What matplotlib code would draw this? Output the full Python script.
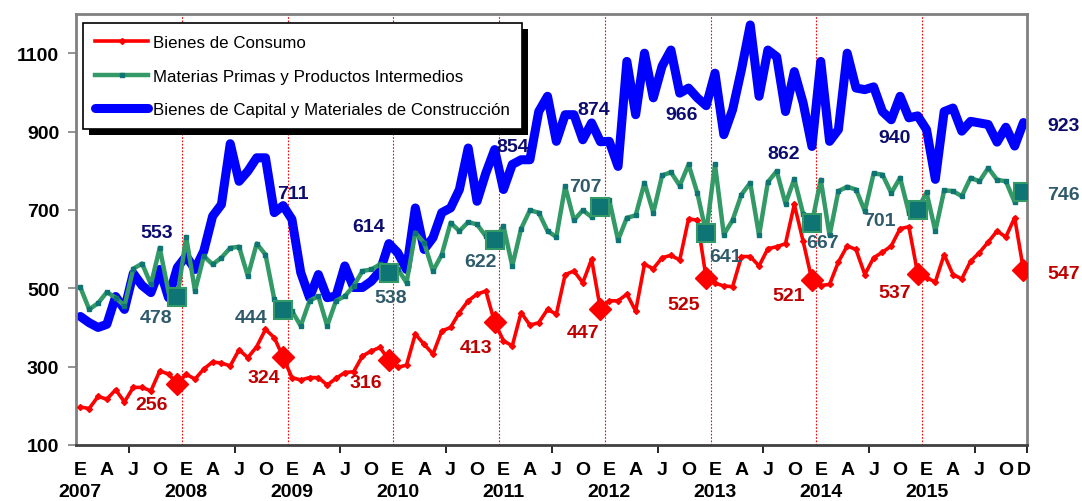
import numpy as np
import matplotlib
matplotlib.use("Agg")
import matplotlib.pyplot as plt
from matplotlib.patches import Rectangle
from matplotlib.transforms import blended_transform_factory

# ---------------- data ----------------
years = [2007, 2008, 2009, 2010, 2011, 2012, 2013, 2014, 2015]
month_letters = ["E", "A", "J", "O"]   # Jan, Apr, Jul, Oct

consumo = [197, 193, 224, 217, 241, 210, 247, 247, 238, 289, 281, 256,
           281, 268, 294, 312, 309, 302, 343, 323, 351, 395, 374, 324,
           272, 266, 272, 272, 253, 270, 285, 287, 327, 340, 349, 316,
           298, 304, 383, 357, 332, 391, 400, 438, 468, 485, 493, 413,
           366, 353, 438, 406, 412, 446, 434, 535, 544, 514, 574, 447,
           468, 468, 485, 442, 561, 550, 578, 584, 572, 677, 674, 525,
           513, 506, 504, 581, 581, 557, 601, 606, 614, 714, 620, 521,
           507, 510, 567, 608, 599, 535, 578, 592, 608, 652, 657, 537,
           527, 516, 586, 535, 524, 569, 591, 618, 646, 631, 680, 547]

materias = [502, 446, 462, 490, 476, 455, 550, 563, 510, 603, 490, 478,
            631, 493, 582, 561, 578, 603, 606, 531, 614, 586, 472, 444,
            442, 404, 468, 480, 404, 468, 480, 506, 544, 548, 561, 538,
            550, 514, 642, 616, 544, 586, 667, 646, 669, 663, 633, 622,
            659, 557, 652, 699, 693, 646, 631, 760, 674, 699, 682, 707,
            726, 623, 680, 686, 769, 693, 788, 796, 762, 816, 743, 641,
            816, 637, 674, 739, 769, 635, 771, 799, 716, 779, 690, 667,
            777, 635, 748, 759, 752, 697, 793, 790, 743, 782, 693, 701,
            745, 646, 750, 748, 735, 782, 773, 807, 777, 773, 720, 746]

capital = [428, 412, 400, 408, 479, 446, 538, 507, 489, 548, 476, 553,
           582, 548, 595, 684, 714, 869, 773, 799, 833, 833, 693, 711,
           676, 540, 476, 535, 476, 480, 557, 502, 502, 518, 544, 614,
           591, 548, 705, 599, 629, 693, 705, 752, 858, 722, 794, 854,
           752, 816, 828, 828, 951, 990, 875, 943, 943, 879, 922, 874,
           875, 811, 1079, 943, 1100, 986, 1067, 1108, 998, 1011, 986, 966,
           1049, 892, 956, 1058, 1172, 990, 1108, 1091, 951, 1053, 973, 862,
           1079, 875, 905, 1100, 1011, 1007, 1014, 951, 930, 990, 935, 940,
           905, 778, 951, 960, 901, 926, 922, 918, 873, 911, 863, 923]

labels = ["Bienes de Consumo",
          "Materias Primas y Productos Intermedios",
          "Bienes de Capital y Materiales de Construcción"]

# label offsets (pixels) for December annotations
off_red = [(-26, -21), (-19, -20), (-23, -22), (-19, -25), (-17, -23),
           (-23, -26), (-23, -15), (-23, -19), (40, -4)]
off_green = [(-21, -21), (-32, -7), (2, -24), (-14, -21), (-15, 21),
             (19, -23), (11, -20), (-38, -11), (40, -3)]
off_blue = [(-21, 35), (10, 12), (-20, 17), (18, 3), (-7, 32),
            (-25, -9), (-28, -7), (-23, -22), (40, -3)]

# ---------------- figure ----------------
W, H = 1082, 502
fig = plt.figure(figsize=(W / 100, H / 100), dpi=100)
ax_l, ax_r, ax_t, ax_b = 76, 1027, 15, 446
ax = fig.add_axes([ax_l / W, 1 - ax_b / H, (ax_r - ax_l) / W, (ax_b - ax_t) / H])

x = np.arange(len(consumo))
dec = np.arange(11, len(consumo), 12)

RED = "#ff0000"
GREEN = "#339966"
TEAL = "#0e7474"
BLUE = "#0000ff"
FONT = "Liberation Sans"

ln_red, = ax.plot(x, consumo, color=RED, lw=2.6, marker="D", ms=3,
                  mfc=RED, mec=RED, zorder=4, label=labels[0])
ln_green, = ax.plot(x, materias, color=GREEN, lw=3.2, marker="s", ms=3.5,
                    mfc=TEAL, mec=TEAL, zorder=3, label=labels[1])
ln_blue, = ax.plot(x, capital, color=BLUE, lw=6.5, solid_capstyle="round",
                   solid_joinstyle="round", zorder=2, label=labels[2])

ax.plot(dec, np.array(consumo)[dec], ls="none", marker="D", ms=11,
        color=RED, zorder=5)
ax.plot(dec, np.array(materias)[dec], ls="none", marker="s", ms=13,
        mfc=TEAL, mec=GREEN, mew=1.5, zorder=5)

# year separators
for k in range(1, len(years)):
    ax.axvline(12 * k - 0.5, color=RED, lw=0.8, ls=(0, (1.5, 1.5)), zorder=1)

ax.set_xlim(-0.5, 107.4)
ax.set_ylim(100, 1200)
ax.set_yticks([100, 300, 500, 700, 900, 1100])
for t in ax.get_yticklabels():
    t.set_fontweight("bold")
    t.set_fontsize(14)
    t.set_family(FONT)
ax.tick_params(axis="y", direction="out", length=6, width=1.2, color="#808080", pad=6)

ax.set_xticks([])
ax.set_xticks(list(np.arange(5.5, 108, 12)) + [107.4], minor=True)
ax.tick_params(axis="x", which="minor", direction="out", length=6, width=1.2,
               color="black")

for s in ax.spines.values():
    s.set_color("#808080")
    s.set_linewidth(2)
ax.spines["bottom"].set_color("#404040")

trans = blended_transform_factory(ax.transData, ax.transAxes)
for yi, yr in enumerate(years):
    for mi, ml in enumerate(month_letters):
        ax.text(12 * yi + 3 * mi, -0.058, ml, transform=trans, ha="center",
                va="center", fontsize=14, fontweight="bold",
                family=FONT, clip_on=False)
    ax.text(12 * yi, -0.109, str(yr), transform=trans, ha="center", va="center",
            fontsize=14, fontweight="bold", family=FONT, clip_on=False)
ax.text(len(consumo) - 1, -0.058, "D", transform=trans, ha="center", va="center",
        fontsize=14, fontweight="bold", family=FONT, clip_on=False)

# annotations
def annotate(series, offs, color):
    for j, d in enumerate(dec):
        ax.annotate(str(series[d]), (d, series[d]), xytext=offs[j],
                    textcoords="offset pixels", ha="center", va="center",
                    fontsize=14, fontweight="bold", color=color,
                    family=FONT, zorder=6, annotation_clip=False)

annotate(consumo, off_red, "#c00000")
annotate(materias, off_green, "#2f5a6a")
annotate(capital, off_blue, "#0c0c70")

# legend
leg = ax.legend(handles=[ln_red, ln_green, ln_blue], loc="upper left",
                bbox_to_anchor=(0.0074, 0.979), frameon=True, fancybox=False,
                edgecolor="black", framealpha=1, handlelength=3.15,
                handletextpad=0.3, borderpad=0.7, labelspacing=1.1,
                borderaxespad=0,
                prop={"family": FONT, "size": 12.2})
leg.get_frame().set_linewidth(1.2)
leg.set_zorder(8)

fig.canvas.draw()
bb = leg.get_window_extent().transformed(ax.transAxes.inverted())
sx, sy = 6 / (ax_r - ax_l), 6 / (ax_b - ax_t)
shadow = Rectangle((bb.x0 + sx, bb.y0 - sy), bb.width, bb.height,
                   transform=ax.transAxes, facecolor="black", edgecolor="none",
                   zorder=7.5, clip_on=False)
ax.add_patch(shadow)

fig.savefig("out.png", dpi=100)
